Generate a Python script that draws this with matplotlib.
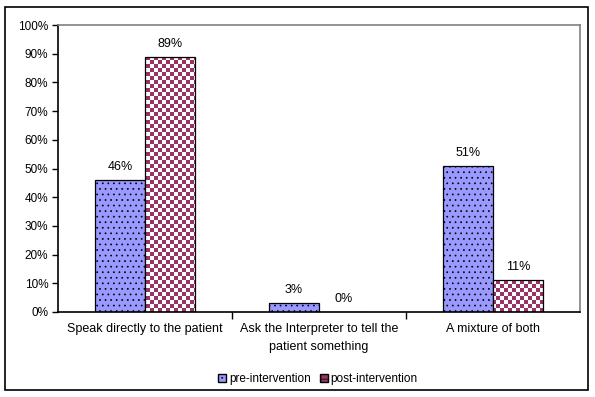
import numpy as np
import matplotlib
matplotlib.use("Agg")
import matplotlib.pyplot as plt
from matplotlib.patches import Rectangle, Patch
from matplotlib.colors import ListedColormap

plt.rcParams['font.family'] = ['Liberation Sans', 'DejaVu Sans']
plt.rcParams['hatch.linewidth'] = 0.5

categories = ["Speak directly to the patient",
              "Ask the Interpreter to tell the\npatient something",
              "A mixture of both"]
pre = [46, 3, 51]
post = [89, 0, 11]
series_names = ["pre-intervention", "post-intervention"]

pre_color = "#9999FF"
post_color = "#993366"

fig = plt.figure(figsize=(5.95, 3.97), dpi=100)
# outer chart border
fig.patches.append(Rectangle((5 / 595, 7 / 397), 583 / 595, 383 / 397,
                             transform=fig.transFigure, fill=False,
                             edgecolor="black", linewidth=1.2))

ax = fig.add_axes([58 / 595, 85 / 397, 522 / 595, 287 / 397])

x = np.arange(len(categories))
w = 0.287

bars_pre = ax.bar(x - w / 2, pre, w, color=pre_color, edgecolor="black",
                  linewidth=0.9, hatch="...", label=series_names[0])
bars_post = ax.bar(x + w / 2, post, w, color="white", edgecolor="black",
                   linewidth=0.9, label=series_names[1])

ax.set_xlim(-0.5, 2.5)
ax.set_ylim(0, 100)

# checkerboard fill for post-intervention bars
ny, nx = 72, 131
cells = (np.indices((ny, nx)).sum(axis=0) % 2).astype(float)
cmap = ListedColormap(["white", post_color])
for b in bars_post:
    if b.get_height() <= 0:
        continue
    im = ax.imshow(cells, cmap=cmap, extent=(-0.5, 2.5, 0, 100),
                   aspect="auto", interpolation="nearest", zorder=1.5,
                   origin="lower")
    im.set_clip_path(b)
    b.set_zorder(2)
    b.set_facecolor("none")

# value labels
for bars, vals in [(bars_pre, pre), (bars_post, post)]:
    for b, v in zip(bars, vals):
        ax.annotate(f"{v}%", (b.get_x() + b.get_width() / 2, v),
                    xytext=(0, 5), textcoords="offset points",
                    ha="center", va="bottom", fontsize=9)

ax.set_yticks(np.arange(0, 101, 10))
ax.set_yticklabels([f"{t}%" for t in range(0, 101, 10)], fontsize=8.5)
ax.set_xticks([0.5, 1.5])
ax.set_xticklabels([])
ax.set_xticks(x, minor=True)
ax.set_xticklabels(categories, minor=True, fontsize=9, linespacing=1.6)
ax.tick_params(axis="x", which="minor", length=0, pad=8)
ax.tick_params(axis="x", which="major", length=5, direction="out", width=1)
ax.tick_params(axis="y", length=4, direction="out", width=1, pad=3)

for s in ["top", "right"]:
    ax.spines[s].set_color("#808080")
    ax.spines[s].set_linewidth(1.2)
for s in ["left", "bottom"]:
    ax.spines[s].set_color("black")
    ax.spines[s].set_linewidth(1.2)

# legend
handles = [Patch(facecolor=pre_color, edgecolor="black", hatch="..."),
           Patch(facecolor=post_color, edgecolor="black", hatch="++")]
fig.legend(handles, series_names, loc="center", bbox_to_anchor=(318 / 595, 1 - 379 / 397),
           ncol=2, frameon=False, fontsize=8.5, handlelength=0.7, handleheight=0.7,
           handletextpad=0.2, columnspacing=0.8)

fig.savefig("out.png", dpi=100)
